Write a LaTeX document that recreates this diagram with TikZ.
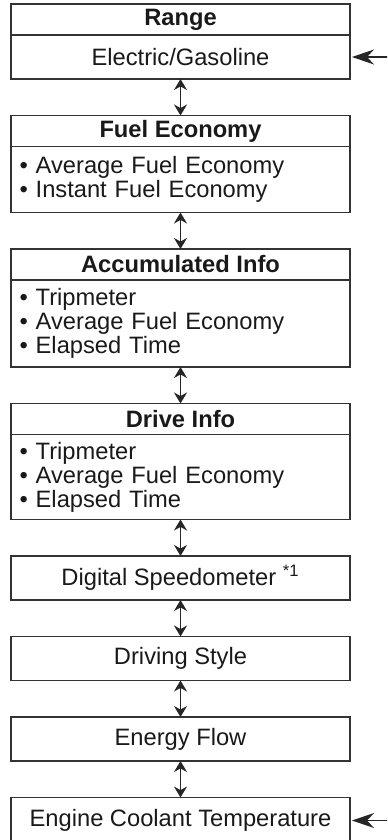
\documentclass[tikz,border=0pt]{standalone}
\usepackage{fontspec}
\setmainfont{Liberation Sans}
\usetikzlibrary{positioning,arrows.meta}

\begin{document}
\begin{tikzpicture}[x=0.5pt,y=-0.5pt,
  node distance=18.25pt,
  every node/.style={font=\fontsize{11.85}{12}\selectfont,text=black!90,outer sep=0pt},
  hdr/.style={draw=black!80,line width=0.7pt,minimum width=169.5pt,
              minimum height=15.5pt,inner sep=0pt,
              font=\fontsize{11.85}{12}\selectfont\bfseries},
  body/.style={draw=black!80,line width=0.7pt,text width=161pt,
               inner xsep=4.25pt,inner ysep=0pt,align=left},
  plainbox/.style={draw=black!80,line width=0.7pt,minimum width=169.5pt,
                   minimum height=22pt,inner sep=0pt},
  link/.style={{Stealth[length=5.5pt,width=6.5pt]}-{Stealth[length=5.5pt,width=6.5pt]},
               line width=0.65pt,black!85},
  feed/.style={-{Stealth[length=11pt,width=7.5pt,inset=3.5pt]},
               line width=0.65pt,black!85,shorten >=1pt}]

  \clip (0,0) rectangle (387,840);

  % screens with a title bar
  \node[hdr] (range) at (180.5,19.5) {Range};
  \node[body,align=center,minimum height=22pt,below=0pt of range] (rangebody) {Electric/Gasoline};

  \node[hdr,below=of rangebody] (fuel) {Fuel Economy};
  \node[body,minimum height=33pt,below=0pt of fuel] (fuelbody)
       {• Average Fuel Economy\\• Instant Fuel Economy};

  \node[hdr,below=of fuelbody] (accum) {Accumulated Info};
  \node[body,minimum height=43.5pt,below=0pt of accum] (accumbody)
       {• Tripmeter\\• Average Fuel Economy\\• Elapsed Time};

  \node[hdr,below=of accumbody] (drive) {Drive Info};
  \node[body,minimum height=42.5pt,below=0pt of drive] (drivebody)
       {• Tripmeter\\• Average Fuel Economy\\• Elapsed Time};

  % single-line screens
  \node[plainbox,below=of drivebody] (speedo) {Digital Speedometer \textsuperscript{*1}};
  \node[plainbox,below=of speedo] (style) {Driving Style};
  \node[plainbox,below=of style] (flow) {Energy Flow};
  \node[plainbox,minimum height=23pt,below=of flow] (coolant) {Engine Coolant Temperature};

  % switching between screens
  \foreach \a/\b in {rangebody/fuel, fuelbody/accum, accumbody/drive,
                     drivebody/speedo, speedo/style, style/flow, flow/coolant}
    \draw[link] (\a) -- (\b);

  % entry arrows
  \coordinate[right=20pt of rangebody.east] (rangein);
  \coordinate[right=20pt of coolant.east] (coolantin);
  \draw[feed] (rangein) -- (rangebody.east);
  \draw[feed] (coolantin) -- (coolant.east);

\end{tikzpicture}
\end{document}
